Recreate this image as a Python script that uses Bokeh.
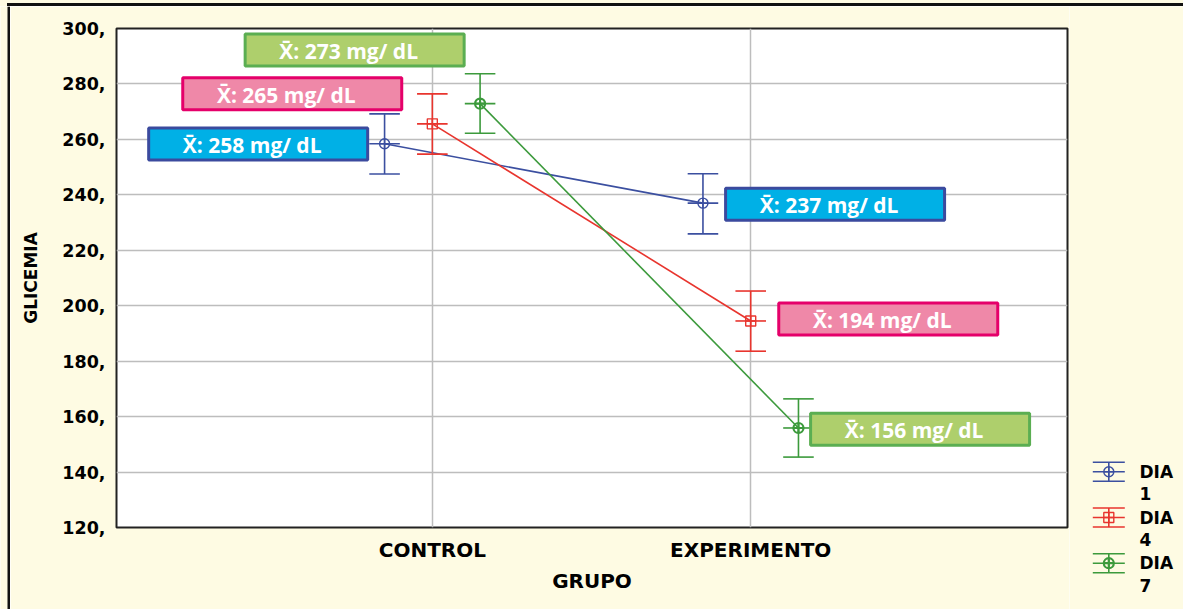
from bokeh.plotting import figure
from bokeh.models import FixedTicker, Range1d, ColumnDataSource, Div
from bokeh.layouts import row, column
from bokeh.embed import file_html
from bokeh.resources import INLINE
from bokeh.core.properties import value

# ---------------- data ----------------
groups = ["CONTROL", "EXPERIMENTO"]
series = ["DIA 1", "DIA 4", "DIA 7"]

mean_dia1 = [258.4, 237.0]
mean_dia4 = [265.6, 194.5]
mean_dia7 = [272.9, 155.9]

low_dia1 = [247.5, 225.9]
high_dia1 = [269.2, 247.6]
low_dia4 = [254.7, 183.6]
high_dia4 = [276.4, 205.3]
low_dia7 = [262.2, 145.4]
high_dia7 = [283.7, 166.4]

label_dia1 = [258, 237]
label_dia4 = [265, 194]
label_dia7 = [273, 156]

y_ticks = [120, 140, 160, 180, 200, 220, 240, 260, 280, 300]

# ---------------- style / layout ----------------
cream = "#FEFBE3"
line_colors = ["#3B4FA0", "#E8352E", "#3C9A3C"]
markers = ["circle_cross", "square_cross", "circle_cross"]
marker_lw = [1.4, 1.4, 2.2]
box_fill = ["#00B0E6", "#EF88A8", "#AECF6C"]
box_line = ["#3B4A9E", "#E5006A", "#5BAE52"]
series_dx = [-0.15, 0.0, 0.15]
cap_half = 0.048
# label box offsets relative to each point (x units, y units)
label_dx = [[-0.397, 0.415], [-0.440, 0.432], [-0.394, 0.382]]
label_dy = [[-0.1, -0.4], [10.9, 0.7], [19.3, -0.5]]

means = [mean_dia1, mean_dia4, mean_dia7]
lows = [low_dia1, low_dia4, low_dia7]
highs = [high_dia1, high_dia4, high_dia7]
labels = [label_dia1, label_dia4, label_dia7]

tick_font = "DejaVu Sans"
TOTAL_W, TOTAL_H = 1183, 609
TOP_H, LEFT_W = 6, 10
ROW_H = TOTAL_H - TOP_H
MAIN_W = 1059

# top border line (cream margin, then a dark rule starting at x=7)
top = Div(text="", width=TOTAL_W, height=TOP_H, margin=0,
          styles={"display": "block",
                  "width": f"{TOTAL_W}px", "height": f"{TOP_H}px",
                  "background-color": cream,
                  "background-image": "linear-gradient(#111111, #111111)",
                  "background-repeat": "no-repeat",
                  "background-position": "7px 3px",
                  "background-size": "100% 3px",
                  "overflow": "hidden", "padding": "0px"})

left = figure(width=LEFT_W, height=ROW_H, x_range=Range1d(0, LEFT_W),
              y_range=Range1d(ROW_H, 0), x_axis_type=None, y_axis_type=None,
              toolbar_location=None, output_backend="svg", min_border=0,
              background_fill_color=cream, border_fill_color=cream,
              outline_line_color=None)
left.frame_align = False
left.quad(left=[7], right=[9.6], top=[0], bottom=[ROW_H],
          fill_color="#111111", line_color=None)

p = figure(width=MAIN_W, height=ROW_H,
           x_range=Range1d(0.008, 2.995), y_range=Range1d(120, 300),
           toolbar_location=None, output_backend="svg",
           min_border_left=106, min_border_right=2,
           min_border_top=22, min_border_bottom=ROW_H - 22 - 499,
           background_fill_color="white", border_fill_color=cream,
           outline_line_color="#222222", outline_line_width=2)
p.frame_align = False

group_x = [i + 1 for i in range(len(groups))]

p.xaxis.ticker = FixedTicker(ticks=group_x)
p.xaxis.major_label_overrides = {x: g for x, g in zip(group_x, groups)}
p.yaxis.ticker = FixedTicker(ticks=y_ticks)
p.yaxis.major_label_overrides = {v: f"{v}," for v in y_ticks}
p.xaxis.axis_label = "GRUPO"
p.yaxis.axis_label = "GLICEMIA"

for ax in (p.xaxis[0], p.yaxis[0]):
    ax.axis_line_color = None
    ax.major_tick_line_color = None
    ax.minor_tick_line_color = None
    ax.major_tick_out = 0
    ax.major_tick_in = 0
    ax.major_label_text_font = tick_font
    ax.major_label_text_font_style = "bold"
    ax.major_label_text_color = "black"
    ax.axis_label_text_font = tick_font
    ax.axis_label_text_font_style = "bold"
    ax.axis_label_text_color = "black"

p.yaxis.major_label_text_font_size = "17.5px"
p.yaxis.axis_label_text_font_size = "17px"
p.yaxis.major_label_standoff = 11
p.yaxis.axis_label_standoff = 18
p.xaxis.major_label_text_font_size = "20px"
p.xaxis.axis_label_text_font_size = "20px"
p.xaxis.major_label_standoff = 10
p.xaxis.axis_label_standoff = 4

p.xgrid.grid_line_color = "#BDBDBD"
p.ygrid.grid_line_color = "#BDBDBD"
p.xgrid.grid_line_width = 1.5
p.ygrid.grid_line_width = 1.5

# lines, error bars, markers
for k in range(len(series)):
    xs = [gx + series_dx[k] for gx in group_x]
    col = line_colors[k]
    p.line(xs, means[k], line_color=col, line_width=1.6)
    p.segment(x0=xs, y0=lows[k], x1=xs, y1=highs[k], line_color=col, line_width=1.6)
    for arr in (lows[k], highs[k], means[k]):
        p.segment(x0=[x - cap_half for x in xs], y0=arr,
                  x1=[x + cap_half for x in xs], y1=arr,
                  line_color=col, line_width=1.6)
    p.scatter(xs, means[k], marker=markers[k], size=10, line_color=col,
              fill_alpha=0, line_width=marker_lw[k])

# label boxes
for k in range(len(series)):
    xs = [gx + series_dx[k] + label_dx[k][i] for i, gx in enumerate(group_x)]
    ys = [means[k][i] + label_dy[k][i] for i in range(len(group_x))]
    txt = [f"X\u0304: {v} mg/ dL" for v in labels[k]]
    src = ColumnDataSource(dict(x=xs, y=ys, t=txt))
    p.rect(x="x", y="y", width=219, height=32, width_units="screen",
           height_units="screen", source=src, fill_color=box_fill[k],
           line_color=box_line[k], line_width=3)
    p.text(x="x", y="y", text="t", source=src, x_offset=-6, y_offset=1,
           text_align="center", text_baseline="middle",
           text_color="white", text_font=value("Open Sans"),
           text_font_style="bold", text_font_size="21px")

# legend panel (coordinates = page pixels)
LEG_X0 = LEFT_W + MAIN_W
leg = figure(width=TOTAL_W - LEG_X0, height=ROW_H,
             x_range=Range1d(LEG_X0, TOTAL_W), y_range=Range1d(TOTAL_H, TOP_H),
             x_axis_type=None, y_axis_type=None,
             toolbar_location=None, output_backend="svg", min_border=0,
             background_fill_color=cream, border_fill_color=cream,
             outline_line_color=None)
leg.frame_align = False

sym_x = 1108.3
sym_half = 16
cap_h = 9.5
row0 = 471.3
row_step = 45.7
text_x = 1139
for k, name in enumerate(series):
    yc = row0 + k * row_step
    col = line_colors[k]
    leg.segment(x0=[sym_x - sym_half] * 3, y0=[yc - cap_h, yc, yc + cap_h],
                x1=[sym_x + sym_half] * 3, y1=[yc - cap_h, yc, yc + cap_h],
                line_color=col, line_width=1.6)
    leg.segment(x0=[sym_x], y0=[yc - cap_h], x1=[sym_x], y1=[yc + cap_h],
                line_color=col, line_width=1.6)
    leg.scatter([sym_x], [yc], marker=markers[k], size=10, line_color=col,
                fill_alpha=0, line_width=marker_lw[k])
    parts = name.split(" ")
    leg.text(x=[text_x, text_x], y=[yc, yc + 22], text=parts,
             text_align="left", text_baseline="middle", text_color="black",
             text_font=value(tick_font), text_font_style="bold",
             text_font_size="17px")

layout = column(top, row(left, p, leg))

open("out.html", "w").write(file_html(layout, INLINE))
